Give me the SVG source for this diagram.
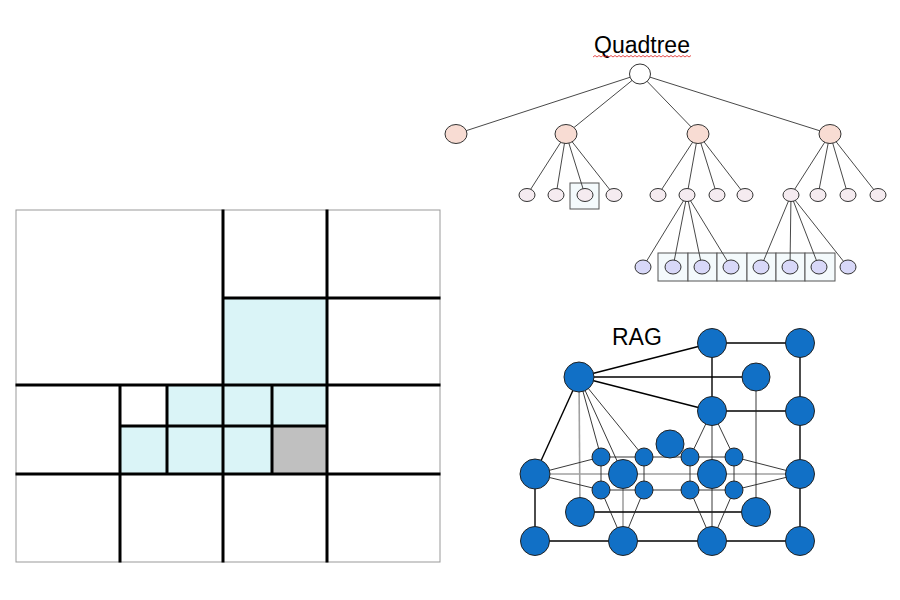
<svg xmlns="http://www.w3.org/2000/svg" width="900" height="600" viewBox="0 0 900 600">
<style>
.title{font-family:"Liberation Sans",Arial,sans-serif;font-size:23px;fill:#000}
.grid{stroke:#000;stroke-width:3;fill:none;stroke-linecap:square}
.border{fill:#fff;stroke:#999;stroke-width:1}
.cy{fill:#DAF4F7}
.gr{fill:#C0C0C0}
.qe{stroke:#333;stroke-width:0.9;fill:none}
.qbox{fill:#F4FAFC;stroke:#555;stroke-width:1}
.q0{fill:#fff;stroke:#333;stroke-width:1}
.q1{fill:#F8DCD3;stroke:#333;stroke-width:1}
.q2{fill:#F5EBF0;stroke:#333;stroke-width:1}
.q3{fill:#D8D8F8;stroke:#333;stroke-width:1}
.rn{fill:#1170C6;stroke:#222;stroke-width:1}
.ed{stroke:#000;stroke-width:1.4}
.et{stroke:#222;stroke-width:0.9}
.eg{stroke:#A0A0A0;stroke-width:1.6}
</style>

<!-- Region grid (plan) -->
<g id="grid">
<rect class="border" x="16" y="210" width="424" height="352"/>
<rect class="cy" x="223" y="298" width="104" height="87"/>
<rect class="cy" x="167" y="385" width="56" height="41"/>
<rect class="cy" x="223" y="385" width="49" height="41"/>
<rect class="cy" x="272" y="385" width="55" height="41"/>
<rect class="cy" x="120" y="426" width="47" height="48"/>
<rect class="cy" x="167" y="426" width="56" height="48"/>
<rect class="cy" x="223" y="426" width="49" height="48"/>
<rect class="gr" x="272" y="426" width="55" height="48"/>
<path class="grid" d="M223 211V561M327 211V561M120 385V561M167 385V474M272 385V474M223 298H439M17 385H439M17 474H439M120 426H327"/>
</g>

<!-- Quadtree -->
<text class="title" x="642" y="53" text-anchor="middle">Quadtree</text>
<path d="M593 57l2 -1.5l2 1.5l2 -1.5l2 1.5l2 -1.5l2 1.5l2 -1.5l2 1.5l2 -1.5l2 1.5l2 -1.5l2 1.5l2 -1.5l2 1.5l2 -1.5l2 1.5l2 -1.5l2 1.5l2 -1.5l2 1.5l2 -1.5l2 1.5l2 -1.5l2 1.5l2 -1.5l2 1.5l2 -1.5l2 1.5l2 -1.5l2 1.5l2 -1.5l2 1.5l2 -1.5l2 1.5l2 -1.5l2 1.5l2 -1.5l2 1.5l2 -1.5l2 1.5l2 -1.5l2 1.5l2 -1.5l2 1.5l2 -1.5l2 1.5l2 -1.5l2 1.5l2 -1.5" fill="none" stroke="#E02020" stroke-width="0.8"/>

<g id="quadtree-boxes">
<rect class="qbox" x="570" y="183" width="29" height="26"/>
<rect class="qbox" x="658" y="253" width="30" height="28"/>
<rect class="qbox" x="688" y="253" width="29" height="28"/>
<rect class="qbox" x="717" y="253" width="30" height="28"/>
<rect class="qbox" x="747" y="253" width="29" height="28"/>
<rect class="qbox" x="776" y="253" width="29" height="28"/>
<rect class="qbox" x="805" y="253" width="30" height="28"/>
</g>

<g id="quadtree-edges" class="qe">
<line x1="640" y1="74" x2="456" y2="134"/>
<line x1="640" y1="74" x2="566" y2="134"/>
<line x1="640" y1="74" x2="698" y2="134"/>
<line x1="640" y1="74" x2="830" y2="134"/>
<line x1="566" y1="134" x2="527" y2="195"/>
<line x1="566" y1="134" x2="556" y2="195"/>
<line x1="566" y1="134" x2="585" y2="195"/>
<line x1="566" y1="134" x2="614" y2="195"/>
<line x1="698" y1="134" x2="658" y2="195"/>
<line x1="698" y1="134" x2="687" y2="195"/>
<line x1="698" y1="134" x2="717" y2="195"/>
<line x1="698" y1="134" x2="745" y2="195"/>
<line x1="830" y1="134" x2="791" y2="195"/>
<line x1="830" y1="134" x2="818" y2="195"/>
<line x1="830" y1="134" x2="848" y2="195"/>
<line x1="830" y1="134" x2="878" y2="195"/>
<line x1="687" y1="195" x2="643" y2="267"/>
<line x1="687" y1="195" x2="673" y2="267"/>
<line x1="687" y1="195" x2="702" y2="267"/>
<line x1="687" y1="195" x2="731" y2="267"/>
<line x1="791" y1="195" x2="761" y2="267"/>
<line x1="791" y1="195" x2="790" y2="267"/>
<line x1="791" y1="195" x2="819" y2="267"/>
<line x1="791" y1="195" x2="848" y2="267"/>
</g>

<g id="qt-root"><ellipse class="q0" cx="640" cy="74" rx="10.5" ry="10"/></g>
<g id="qt-1"><ellipse class="q1" cx="456" cy="134" rx="11" ry="9.5"/></g>
<g id="qt-2"><ellipse class="q1" cx="566" cy="134" rx="11" ry="9.5"/></g>
<g id="qt-3"><ellipse class="q1" cx="698" cy="134" rx="11" ry="9.5"/></g>
<g id="qt-4"><ellipse class="q1" cx="830" cy="134" rx="11" ry="9.5"/></g>
<g id="qt-2-1"><ellipse class="q2" cx="527" cy="195" rx="8" ry="6.5"/></g>
<g id="qt-2-2"><ellipse class="q2" cx="556" cy="195" rx="8" ry="6.5"/></g>
<g id="qt-2-3"><ellipse class="q2" cx="585" cy="195" rx="8" ry="6.5"/></g>
<g id="qt-2-4"><ellipse class="q2" cx="614" cy="195" rx="8" ry="6.5"/></g>
<g id="qt-3-1"><ellipse class="q2" cx="658" cy="195" rx="8" ry="6.5"/></g>
<g id="qt-3-2"><ellipse class="q2" cx="687" cy="195" rx="8" ry="6.5"/></g>
<g id="qt-3-3"><ellipse class="q2" cx="717" cy="195" rx="8" ry="6.5"/></g>
<g id="qt-3-4"><ellipse class="q2" cx="745" cy="195" rx="8" ry="6.5"/></g>
<g id="qt-4-1"><ellipse class="q2" cx="791" cy="195" rx="8" ry="6.5"/></g>
<g id="qt-4-2"><ellipse class="q2" cx="818" cy="195" rx="8" ry="6.5"/></g>
<g id="qt-4-3"><ellipse class="q2" cx="848" cy="195" rx="8" ry="6.5"/></g>
<g id="qt-4-4"><ellipse class="q2" cx="878" cy="195" rx="8" ry="6.5"/></g>
<g id="qt-3-2-1"><ellipse class="q3" cx="643" cy="267" rx="8" ry="7"/></g>
<g id="qt-3-2-2"><ellipse class="q3" cx="673" cy="267" rx="8" ry="7"/></g>
<g id="qt-3-2-3"><ellipse class="q3" cx="702" cy="267" rx="8" ry="7"/></g>
<g id="qt-3-2-4"><ellipse class="q3" cx="731" cy="267" rx="8" ry="7"/></g>
<g id="qt-4-1-1"><ellipse class="q3" cx="761" cy="267" rx="8" ry="7"/></g>
<g id="qt-4-1-2"><ellipse class="q3" cx="790" cy="267" rx="8" ry="7"/></g>
<g id="qt-4-1-3"><ellipse class="q3" cx="819" cy="267" rx="8" ry="7"/></g>
<g id="qt-4-1-4"><ellipse class="q3" cx="848" cy="267" rx="8" ry="7"/></g>

<!-- RAG -->
<text class="title" x="612" y="345">RAG</text>

<g id="rag-edges">
<g class="eg">
<line x1="579" y1="377" x2="580" y2="512"/>
<line x1="623" y1="474" x2="623" y2="541"/>
<line x1="535" y1="474" x2="800" y2="474"/>
</g>
<g class="ed">
<line x1="579" y1="377" x2="712" y2="343"/>
<line x1="712" y1="343" x2="800" y2="343"/>
<line x1="579" y1="377" x2="756" y2="377"/>
<line x1="579" y1="377" x2="712" y2="411"/>
<line x1="712" y1="343" x2="712" y2="411"/>
<line x1="712" y1="411" x2="800" y2="411"/>
<line x1="800" y1="343" x2="800" y2="541"/>
<line x1="579" y1="377" x2="535" y2="474"/>
<line x1="535" y1="474" x2="535" y2="541"/>
<line x1="535" y1="541" x2="800" y2="541"/>
<line x1="580" y1="512" x2="756" y2="512"/>
</g>
<g class="et">
<line x1="579" y1="377" x2="601" y2="457"/>
<line x1="579" y1="377" x2="623" y2="474"/>
<line x1="579" y1="377" x2="644" y2="457"/>
<line x1="712" y1="411" x2="690" y2="457"/>
<line x1="712" y1="411" x2="734" y2="457"/>
<line x1="712" y1="411" x2="712" y2="541"/>
<line x1="756" y1="377" x2="756" y2="512"/>
<line x1="535" y1="474" x2="601" y2="457"/>
<line x1="535" y1="474" x2="601" y2="490"/>
<line x1="800" y1="474" x2="734" y2="457"/>
<line x1="800" y1="474" x2="734" y2="490"/>
<line x1="601" y1="457" x2="734" y2="457"/>
<line x1="601" y1="490" x2="734" y2="490"/>
<line x1="601" y1="457" x2="601" y2="490"/>
<line x1="644" y1="457" x2="644" y2="490"/>
<line x1="690" y1="457" x2="690" y2="490"/>
<line x1="734" y1="457" x2="734" y2="490"/>
<line x1="601" y1="490" x2="623" y2="541"/>
<line x1="644" y1="490" x2="623" y2="541"/>
<line x1="690" y1="490" x2="712" y2="541"/>
<line x1="734" y1="490" x2="712" y2="541"/>
</g>
</g>

<g id="rag-A"><circle class="rn" cx="712" cy="343" r="14.5"/></g>
<g id="rag-B"><circle class="rn" cx="800" cy="343" r="14.5"/></g>
<g id="rag-C"><circle class="rn" cx="579" cy="377" r="15"/></g>
<g id="rag-D"><circle class="rn" cx="756" cy="377" r="14"/></g>
<g id="rag-E"><circle class="rn" cx="712" cy="411" r="14.5"/></g>
<g id="rag-F"><circle class="rn" cx="800" cy="411" r="14.5"/></g>
<g id="rag-H"><circle class="rn" cx="535" cy="474" r="15"/></g>
<g id="rag-I"><circle class="rn" cx="623" cy="474" r="14.5"/></g>
<g id="rag-J"><circle class="rn" cx="712" cy="474" r="14.5"/></g>
<g id="rag-K"><circle class="rn" cx="800" cy="474" r="14.5"/></g>
<g id="rag-L"><circle class="rn" cx="580" cy="512" r="14.5"/></g>
<g id="rag-M"><circle class="rn" cx="756" cy="512" r="14.5"/></g>
<g id="rag-N"><circle class="rn" cx="535" cy="541" r="14.5"/></g>
<g id="rag-O"><circle class="rn" cx="623" cy="541" r="14.5"/></g>
<g id="rag-P"><circle class="rn" cx="712" cy="541" r="14.5"/></g>
<g id="rag-Q"><circle class="rn" cx="800" cy="541" r="14.5"/></g>
<g id="rag-s1"><circle class="rn" cx="601" cy="457" r="9"/></g>
<g id="rag-s2"><circle class="rn" cx="644" cy="457" r="9"/></g>
<g id="rag-s3"><circle class="rn" cx="690" cy="457" r="9"/></g>
<g id="rag-s4"><circle class="rn" cx="734" cy="457" r="9"/></g>
<g id="rag-s5"><circle class="rn" cx="601" cy="490" r="9"/></g>
<g id="rag-s6"><circle class="rn" cx="644" cy="490" r="9"/></g>
<g id="rag-s7"><circle class="rn" cx="690" cy="490" r="9"/></g>
<g id="rag-s8"><circle class="rn" cx="734" cy="490" r="9"/></g>
<g id="rag-G"><circle class="rn" cx="670" cy="444" r="14"/></g>
</svg>
